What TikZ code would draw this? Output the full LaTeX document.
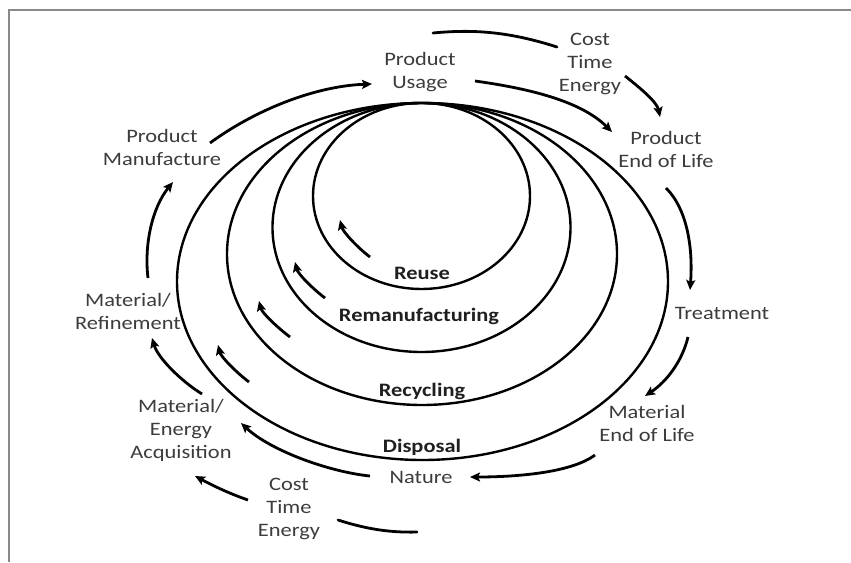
\documentclass[tikz,border=0pt]{standalone}
\usepackage{fontspec}
\setmainfont{Carlito}[FakeStretch=1.18]
\usetikzlibrary{arrows.meta}
\definecolor{txtgray}{HTML}{3C3C3C}
\definecolor{framegray}{HTML}{8A8A8A}
\begin{document}
\begin{tikzpicture}[x=1pt,y=-1pt,
  lbl/.style={font=\fontsize{19}{23}\selectfont, text=txtgray, align=center, inner sep=0pt},
  blbl/.style={font=\fontsize{19}{23}\selectfont\bfseries, text=black!88, inner sep=0pt},
  ring/.style={line width=2.4pt, black},
  flow/.style={line width=2.8pt, black, -{Stealth[length=10pt,width=9pt,inset=2pt]}},
  plainflow/.style={line width=2.8pt, black, line cap=round}]
\useasboundingbox (0,0) rectangle (851,562);
\fill[white] (0,0) rectangle (851,562);
\draw[framegray, line width=2pt] (9,562) -- (9,10) -- (851,10);

% rings
\draw[ring] (421.5,196) ellipse [x radius=108.5pt, y radius=93pt];
\draw[ring] (421.5,227.5) ellipse [x radius=149pt, y radius=124.5pt];
\draw[ring] (422,254) ellipse [x radius=195pt, y radius=151pt];
\draw[ring] (422.5,281.5) ellipse [x radius=245.5pt, y radius=178.5pt];

% outer labels
\node[lbl] (pu)   at (420,72)  {Product\\Usage};
\node[lbl] (cte1) at (590,64)  {Cost\\Time\\Energy};
\node[lbl] (peol) at (666,149) {Product\\End of Life};
\node[lbl] (treat) at (722,313) {Treatment};
\node[lbl] (meol) at (647,423) {Material\\End of Life};
\node[lbl] (nat)  at (421,477) {Nature};
\node[lbl] (cte2) at (289,509) {Cost\\Time\\Energy};
\node[lbl] (acq)  at (181,430) {Material/\\Energy\\Acquisition};
\node[lbl] (ref)  at (128,311) {Material/\\Refinement};
\node[lbl] (pm)   at (162,147) {Product\\Manufacture};

% ring labels
\node[blbl] (reuse) at (422,273) {Reuse};
\node[blbl] (reman) at (419,316) {Remanufacturing};
\node[blbl] (recyc) at (422,391) {Recycling};
\node[blbl] (disp)  at (422,447) {Disposal};

% connector end points
\coordinate (pmS) at (210,143);  \coordinate (puW) at (372,84);
\coordinate (puE) at (475,81);   \coordinate (peolN) at (612,132);
\coordinate (t1) at (433,33);    \coordinate (c1W) at (557,47);
\coordinate (c1E) at (625,76);   \coordinate (peolT) at (660,117);
\coordinate (peolS) at (666,188); \coordinate (trN) at (690,290);
\coordinate (trS) at (688,337);  \coordinate (meolN) at (645,396);
\coordinate (meolS) at (595,455); \coordinate (natE) at (470,477);
\coordinate (natW) at (370,476); \coordinate (acqE) at (241,423);
\coordinate (b1) at (417,532);   \coordinate (c2E) at (338,520);
\coordinate (c2W) at (248,500);  \coordinate (acqB) at (195,476);
\coordinate (acqN) at (202,394); \coordinate (refS) at (152,338);
\coordinate (refN) at (148,278); \coordinate (pmB) at (173,182);

% outer cycle
\draw[flow] (pmS) .. controls (255,110) and (315,86) .. (puW);
\draw[flow] (puE) .. controls (525,88) and (580,100) .. (peolN);
\draw[plainflow] (t1) .. controls (475,29) and (510,32) .. (c1W);
\draw[flow] (c1E) .. controls (639,87) and (657,102) .. (peolT);
\draw[flow] (peolS) .. controls (688,210) and (693,250) .. (trN);
\draw[flow] (trS) .. controls (682,362) and (666,382) .. (meolN);
\draw[flow] (meolS) .. controls (571,473) and (515,477) .. (natE);
\draw[flow] (natW) .. controls (330,472) and (271,451) .. (acqE);
\draw[plainflow] (b1) .. controls (385,533) and (360,527) .. (c2E);
\draw[flow] (c2W) .. controls (225,492) and (208,483) .. (acqB);
\draw[flow] (acqN) .. controls (181,381) and (158,358) .. (refS);
\draw[flow] (refN) .. controls (144,245) and (152,208) .. (pmB);

% inner return arrows
\coordinate (i1s) at (370,257); \coordinate (i1e) at (340,220);
\coordinate (i2s) at (325,298); \coordinate (i2e) at (295,262);
\coordinate (i3s) at (290,337); \coordinate (i3e) at (259,301);
\coordinate (i4s) at (249,382); \coordinate (i4e) at (218,345);
\draw[flow] (i1s) .. controls (358,248) and (343,232) .. (i1e);
\draw[flow] (i2s) .. controls (313,289) and (298,274) .. (i2e);
\draw[flow] (i3s) .. controls (278,328) and (262,313) .. (i3e);
\draw[flow] (i4s) .. controls (237,373) and (221,357) .. (i4e);
\end{tikzpicture}
\end{document}
